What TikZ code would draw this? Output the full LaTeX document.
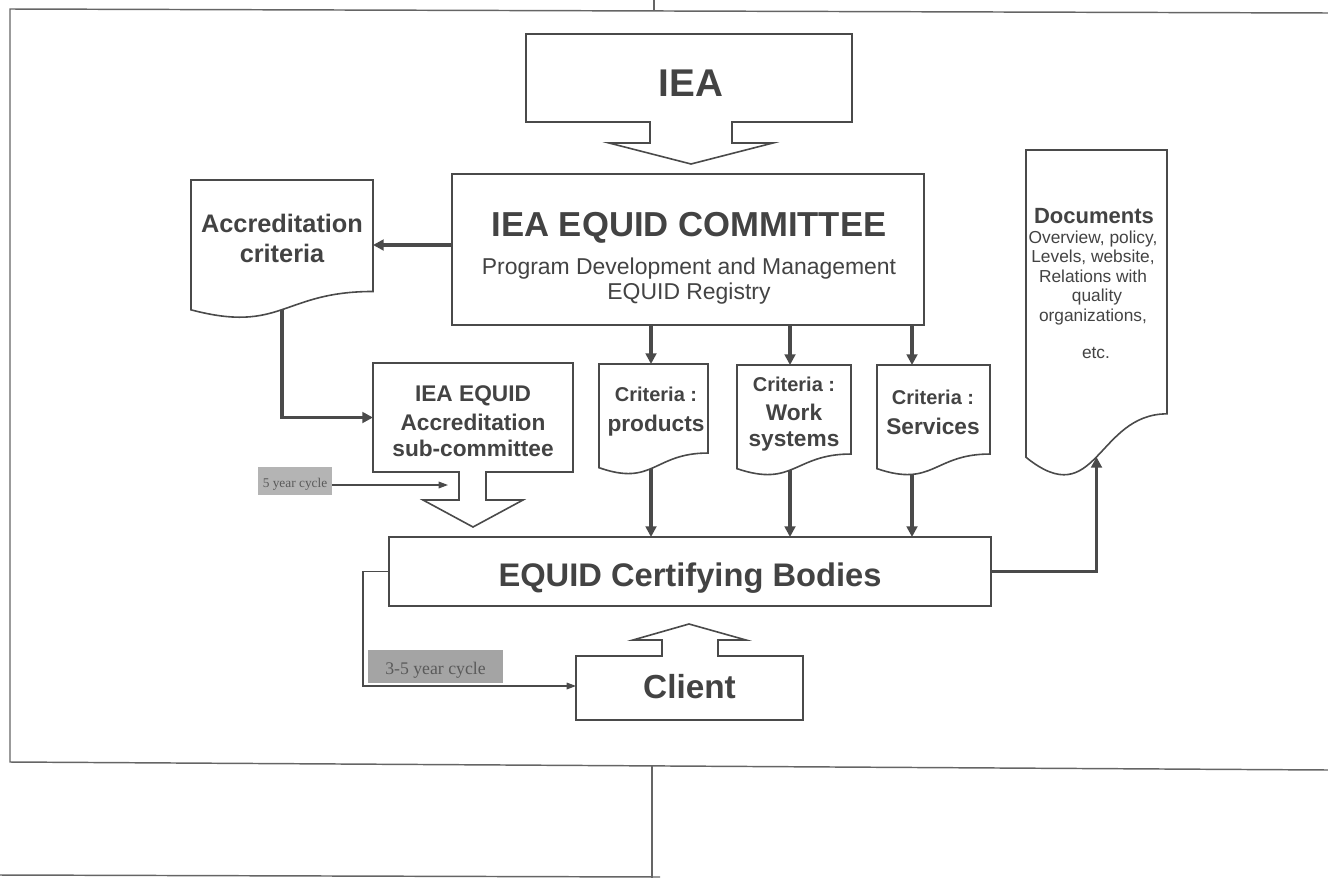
\documentclass[tikz,border=0pt]{standalone}
\usepackage{fontspec}
\setmainfont{Liberation Serif}
\setsansfont{Liberation Sans}
\usetikzlibrary{fit,calc,arrows.meta}
\definecolor{ink}{HTML}{434343}
\definecolor{edge}{HTML}{4A4A4A}
\definecolor{tagA}{HTML}{B4B4B4}
\definecolor{tagB}{HTML}{A4A4A4}
\definecolor{tagtext}{HTML}{5A5A5A}
\newcommand\docoutline[1]{%
  \draw[shapeline] (#1.north west) -- (#1.north east)
   -- ($(#1.north east)!0.802!(#1.south east)$)
   .. controls ($(#1.north)!0.802!(#1.south)$) and ($(#1.north)!1.107!(#1.south)$)
   .. ($(#1.north west)!0.934!(#1.south west)$) -- cycle;}
\newcommand\setfs[2]{\fontsize{#1}{#2}\selectfont}
\begin{document}
\begin{tikzpicture}[x=0.75pt,y=-0.75pt,
  shapeline/.style={draw=edge, line width=1.2pt, fill=white, line join=miter},
  region/.style={inner sep=0pt, outer sep=0pt},
  boxnode/.style={region, draw=edge, line width=1.2pt, fill=white},
  bigarrow/.style={draw=edge, line width=2.6pt, -{Triangle[length=8pt,width=8pt]}},
  thinarrow/.style={draw=edge, line width=0.9pt, -{Triangle[length=7pt,width=5pt]}},
  frameline/.style={draw=edge!85, line width=1.1pt},
  txt/.style={inner sep=0pt, text=ink, anchor=base},
  tag/.style={inner sep=0pt, text=tagtext, anchor=base}
]
\useasboundingbox (0,0) rectangle (1328,878);

% page frame
\draw[frameline] (1328,13) -- (10,9) -- (10,762) -- (1328,770);
\draw[frameline] (654,0) -- (654,10);
\draw[frameline] (652,765) -- (652,878);
\draw[frameline] (0,875) -- (660,877);

% regions
\node[region, fit={(526,34)(852,122)}] (iea) {};
\node[boxnode, fit={(452,174)(924,325)}] (comm) {};
\node[region, fit={(191,180)(373,319)}] (acc) {};
\node[region, fit={(373,363)(573,472)}] (sub) {};
\node[region, fit={(599,364)(708,475)}] (prod) {};
\node[region, fit={(737,365)(851,476)}] (work) {};
\node[region, fit={(877,365)(990,476)}] (serv) {};
\node[region, fit={(1026,150)(1167,479)}] (docs) {};
\node[boxnode, fit={(389,537)(991,606)}] (cert) {};
\node[region, fit={(576,656)(803,720)}] (client) {};
\node[region, fill=tagA, fit={(258,467)(332,495)}] (tag5) {};
\node[region, fill=tagB, fit={(368,650)(503,683)}] (tag35) {};
\coordinate (docsin) at ($(docs.north)!0.933!(docs.south)$);
\coordinate (c5) at (448,485);

% block arrows
\draw[shapeline] (iea.north west) -- (iea.north east) -- (iea.south east) -- (732,122) -- (732,143) -- (773,143) -- (691,164) -- (609,143) -- (650,143) -- (650,122) -- (iea.south west) -- cycle;
\draw[shapeline] (sub.north west) -- (sub.north east) -- (sub.south east) -- (486,472) -- (486,500) -- (523,500) -- (473,527) -- (423,500) -- (459,500) -- (459,472) -- (sub.south west) -- cycle;
\draw[shapeline] (client.south west) -- (client.south east) -- (client.north east) -- (718,656) -- (718,640) -- (746,640) -- (689,624) -- (633,640) -- (662,640) -- (662,656) -- (client.north west) -- cycle;

% connectors
\draw[bigarrow] (comm.west |- 0,245) -- (acc.east |- 0,245);
\draw[bigarrow] (acc.center) |- (sub.west);
\draw[bigarrow] (comm.south -| 651,0) -- (prod.north -| 651,0);
\draw[bigarrow] (comm.south -| 790,0) -- (work.north -| 790,0);
\draw[bigarrow] (comm.south -| 912,0) -- (serv.north -| 912,0);
\draw[bigarrow] (prod.center -| 651,0) -- (cert.north -| 651,0);
\draw[bigarrow] (work.center -| 790,0) -- (cert.north -| 790,0);
\draw[bigarrow] (serv.center -| 912,0) -- (cert.north -| 912,0);
\draw[bigarrow] (cert.east) -| (docsin);
\draw[thinarrow] (tag5.east |- c5) -- (c5);
\draw[thinarrow] (cert.west) -- ++(-26,0) |- (client.west |- 0,686);

% documents
\docoutline{acc}
\docoutline{prod}
\docoutline{work}
\docoutline{serv}
\docoutline{docs}

% texts
\node[txt, font=\sffamily\bfseries\setfs{29}{34}] (tIEA) at (691,96) {IEA};
\node[txt, font=\sffamily\bfseries\setfs{26}{30}] (tcomm1) at (689,236) {IEA EQUID COMMITTEE};
\node[txt, font=\sffamily\setfs{17.2}{20}] (tcomm2) at (689,274.5) {Program Development and Management};
\node[txt, font=\sffamily\setfs{17.2}{20}] (tcomm3) at (689,299) {EQUID Registry};

\node[txt, font=\sffamily\bfseries\setfs{19}{22}] (tacc1) at (282,232) {Accreditation};
\node[txt, font=\sffamily\bfseries\setfs{19}{22}] (tacc2) at (282,262) {criteria};

\node[txt, font=\sffamily\bfseries\setfs{17}{20}] (tsub1) at (473,401) {IEA EQUID};
\node[txt, font=\sffamily\bfseries\setfs{17}{20}] (tsub2) at (473,430) {Accreditation};
\node[txt, font=\sffamily\bfseries\setfs{17}{20}] (tsub3) at (473,456) {sub-committee};

\node[txt, font=\sffamily\bfseries\setfs{15}{18}] (tprod1) at (656,401) {Criteria :};
\node[txt, font=\sffamily\bfseries\setfs{17}{20}] (tprod2) at (656,431) {products};
\node[txt, font=\sffamily\bfseries\setfs{15}{18}] (twork1) at (794,391) {Criteria :};
\node[txt, font=\sffamily\bfseries\setfs{17}{20}] (twork2) at (794,420) {Work};
\node[txt, font=\sffamily\bfseries\setfs{17}{20}] (twork3) at (794,446) {systems};
\node[txt, font=\sffamily\bfseries\setfs{15}{18}] (tserv1) at (933,404) {Criteria :};
\node[txt, font=\sffamily\bfseries\setfs{17}{20}] (tserv2) at (933,434) {Services};

\node[txt, font=\sffamily\bfseries\setfs{24.5}{28}] (tcert) at (690,586) {EQUID Certifying Bodies};
\node[txt, font=\sffamily\bfseries\setfs{25}{28}] (tclient) at (689.5,698) {Client};

\node[txt, font=\sffamily\bfseries\setfs{16.5}{20}] (tdocs0) at (1094,223) {Documents};
\node[txt, font=\sffamily\setfs{13}{15}] (tdocs1) at (1093,243) {Overview, policy,};
\node[txt, font=\sffamily\setfs{13}{15}] (tdocs2) at (1093,262.5) {Levels, website,};
\node[txt, font=\sffamily\setfs{13}{15}] (tdocs3) at (1093,282) {Relations with};
\node[txt, font=\sffamily\setfs{13}{15}] (tdocs4) at (1097,301.5) {quality};
\node[txt, font=\sffamily\setfs{13}{15}] (tdocs5) at (1093,321.5) {organizations,};
\node[txt, font=\sffamily\setfs{13}{15}] (tdocs6) at (1096,358) {etc.};

\node[tag, font=\rmfamily\setfs{10}{12}] (t5) at (tag5.center |- 0,487) {5 year cycle};
\node[tag, font=\rmfamily\setfs{13.3}{15}] (t35) at (tag35.center |- 0,674) {3-5 year cycle};
\end{tikzpicture}
\end{document}
